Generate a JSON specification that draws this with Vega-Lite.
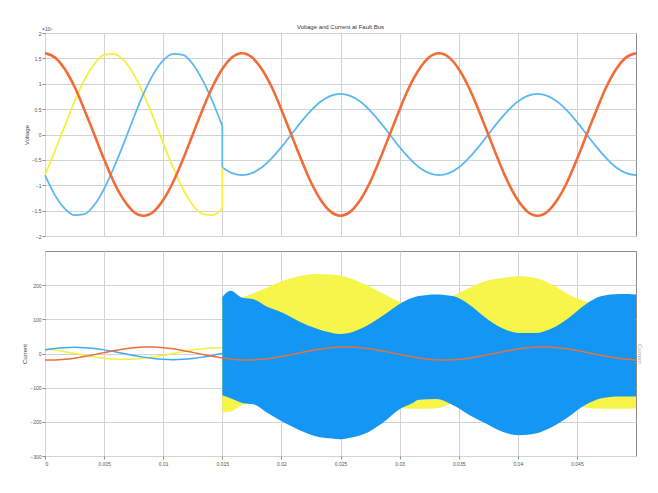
{
  "$schema": "https://vega.github.io/schema/vega-lite/v6.json",
  "background": "white",
  "padding": {"left": 21, "top": 23, "right": 5, "bottom": 5},
  "spacing": 10,
  "config": {
    "font": "Liberation Sans",
    "view": {"stroke": "#8c8c8c", "strokeWidth": 1},
    "axis": {
      "gridColor": "#d2d2d2", "gridWidth": 1, "domain": false,
      "tickColor": "#8c8c8c", "tickSize": 3, "labelOverlap": false,
      "labelFontSize": 5, "labelColor": "#555555", "labelPadding": 1,
      "titleFontSize": 6, "titleFontWeight": "normal", "titleColor": "#444444"
    },
    "title": {"fontSize": 6, "fontWeight": "normal", "color": "#333333"}
  },
  "datasets": {
    "w": [
      {"t":0,"A":1.6,"B":-0.8,"C":-0.8,"ia":-18.7,"ib":13.8,"ic":10.6},
      {"t":0.00083,"A":1.52,"B":-0.33,"C":-1.19,"ia":-18.8,"ib":10,"ic":14.6},
      {"t":0.00167,"A":1.29,"B":0.17,"C":-1.46,"ia":-17.1,"ib":5.3,"ic":17.1},
      {"t":0.0025,"A":0.94,"B":0.65,"C":-1.59,"ia":-13.7,"ib":0,"ic":18},
      {"t":0.00333,"A":0.49,"B":1.07,"C":-1.57,"ia":-8.9,"ib":-5.3,"ic":17.1},
      {"t":0.00417,"A":0,"B":1.39,"C":-1.39,"ia":-3.3,"ib":-10,"ic":14.6},
      {"t":0.005,"A":-0.49,"B":1.57,"C":-1.07,"ia":2.6,"ib":-13.8,"ic":10.6},
      {"t":0.00583,"A":-0.94,"B":1.59,"C":-0.65,"ia":8.3,"ib":-16.2,"ic":5.6},
      {"t":0.00667,"A":-1.29,"B":1.46,"C":-0.17,"ia":13.2,"ib":-17,"ic":0},
      {"t":0.0075,"A":-1.52,"B":1.19,"C":0.33,"ia":16.8,"ib":-16.2,"ic":-5.6},
      {"t":0.00833,"A":-1.6,"B":0.8,"C":0.8,"ia":18.7,"ib":-13.8,"ic":-10.6},
      {"t":0.00917,"A":-1.52,"B":0.33,"C":1.19,"ia":18.8,"ib":-10,"ic":-14.6},
      {"t":0.01,"A":-1.29,"B":-0.17,"C":1.46,"ia":17.1,"ib":-5.3,"ic":-17.1},
      {"t":0.01083,"A":-0.94,"B":-0.65,"C":1.59,"ia":13.7,"ib":0,"ic":-18},
      {"t":0.01167,"A":-0.49,"B":-1.07,"C":1.57,"ia":8.9,"ib":5.3,"ic":-17.1},
      {"t":0.0125,"A":0,"B":-1.39,"C":1.39,"ia":3.3,"ib":10,"ic":-14.6},
      {"t":0.01333,"A":0.49,"B":-1.57,"C":1.07,"ia":-2.6,"ib":13.8,"ic":-10.6},
      {"t":0.01417,"A":0.94,"B":-1.59,"C":0.65,"ia":-8.3,"ib":16.2,"ic":-5.6},
      {"t":0.015,"A":1.29,"B":-1.46,"C":0.17,"Cp":-0.65,"ia":-13.2,"ib":17,"ic":0},
      {"t":0.01583,"A":1.52,"Cp":-0.76,"ia":-16.8},
      {"t":0.01667,"A":1.6,"Cp":-0.8,"ia":-18.7},
      {"t":0.0175,"A":1.52,"Cp":-0.76,"ia":-18.8},
      {"t":0.01833,"A":1.29,"Cp":-0.65,"ia":-17.1},
      {"t":0.01917,"A":0.94,"Cp":-0.47,"ia":-13.7},
      {"t":0.02,"A":0.49,"Cp":-0.25,"ia":-8.9},
      {"t":0.02083,"A":0,"Cp":0,"ia":-3.3},
      {"t":0.02167,"A":-0.49,"Cp":0.25,"ia":2.6},
      {"t":0.0225,"A":-0.94,"Cp":0.47,"ia":8.3},
      {"t":0.02333,"A":-1.29,"Cp":0.65,"ia":13.2},
      {"t":0.02417,"A":-1.52,"Cp":0.76,"ia":16.8},
      {"t":0.025,"A":-1.6,"Cp":0.8,"ia":18.7},
      {"t":0.02583,"A":-1.52,"Cp":0.76,"ia":18.8},
      {"t":0.02667,"A":-1.29,"Cp":0.65,"ia":17.1},
      {"t":0.0275,"A":-0.94,"Cp":0.47,"ia":13.7},
      {"t":0.02833,"A":-0.49,"Cp":0.25,"ia":8.9},
      {"t":0.02917,"A":0,"Cp":0,"ia":3.3},
      {"t":0.03,"A":0.49,"Cp":-0.25,"ia":-2.6},
      {"t":0.03083,"A":0.94,"Cp":-0.47,"ia":-8.3},
      {"t":0.03167,"A":1.29,"Cp":-0.65,"ia":-13.2},
      {"t":0.0325,"A":1.52,"Cp":-0.76,"ia":-16.8},
      {"t":0.03333,"A":1.6,"Cp":-0.8,"ia":-18.7},
      {"t":0.03417,"A":1.52,"Cp":-0.76,"ia":-18.8},
      {"t":0.035,"A":1.29,"Cp":-0.65,"ia":-17.1},
      {"t":0.03583,"A":0.94,"Cp":-0.47,"ia":-13.7},
      {"t":0.03667,"A":0.49,"Cp":-0.25,"ia":-8.9},
      {"t":0.0375,"A":0,"Cp":0,"ia":-3.3},
      {"t":0.03833,"A":-0.49,"Cp":0.25,"ia":2.6},
      {"t":0.03917,"A":-0.94,"Cp":0.47,"ia":8.3},
      {"t":0.04,"A":-1.29,"Cp":0.65,"ia":13.2},
      {"t":0.04083,"A":-1.52,"Cp":0.76,"ia":16.8},
      {"t":0.04167,"A":-1.6,"Cp":0.8,"ia":18.7},
      {"t":0.0425,"A":-1.52,"Cp":0.76,"ia":18.8},
      {"t":0.04333,"A":-1.29,"Cp":0.65,"ia":17.1},
      {"t":0.04417,"A":-0.94,"Cp":0.47,"ia":13.7},
      {"t":0.045,"A":-0.49,"Cp":0.25,"ia":8.9},
      {"t":0.04583,"A":0,"Cp":0,"ia":3.3},
      {"t":0.04667,"A":0.49,"Cp":-0.25,"ia":-2.6},
      {"t":0.0475,"A":0.94,"Cp":-0.47,"ia":-8.3},
      {"t":0.04833,"A":1.29,"Cp":-0.65,"ia":-13.2},
      {"t":0.04917,"A":1.52,"Cp":-0.76,"ia":-16.8},
      {"t":0.05,"A":1.6,"Cp":-0.8,"ia":-18.7}
    ],
    "jumps": [
      {"t":0.015,"from":-1.46,"to":-0.65,"s":"B"},
      {"t":0.015,"from":0.17,"to":-0.65,"s":"C"}
    ],
    "band": [
      {"t":0.015,"bh":165,"bl":-122,"yh":150,"yl":-172},
      {"t":0.0157,"bh":184,"bl":-131,"yh":155,"yl":-170},
      {"t":0.0167,"bh":163,"bl":-145,"yh":165,"yl":-150},
      {"t":0.0177,"bh":158,"bl":-149,"yh":177,"yl":-140},
      {"t":0.0187,"bh":138,"bl":-171,"yh":192,"yl":-120},
      {"t":0.0201,"bh":119,"bl":-200,"yh":212,"yl":-100},
      {"t":0.0215,"bh":94,"bl":-224,"yh":226,"yl":-80},
      {"t":0.0229,"bh":74,"bl":-242,"yh":233,"yl":-70},
      {"t":0.0243,"bh":60,"bl":-249,"yh":231,"yl":-70},
      {"t":0.0249,"bh":57,"bl":-251,"yh":228,"yl":-72},
      {"t":0.0257,"bh":60,"bl":-247,"yh":221,"yl":-80},
      {"t":0.0271,"bh":79,"bl":-234,"yh":202,"yl":-100},
      {"t":0.0285,"bh":109,"bl":-205,"yh":177,"yl":-130},
      {"t":0.0299,"bh":143,"bl":-165,"yh":153,"yl":-158},
      {"t":0.0311,"bh":163,"bl":-145,"yh":140,"yl":-162},
      {"t":0.0316,"bh":168,"bl":-135,"yh":140,"yl":-162},
      {"t":0.0331,"bh":173,"bl":-133,"yh":145,"yl":-160},
      {"t":0.0345,"bh":168,"bl":-151,"yh":168,"yl":-145},
      {"t":0.0359,"bh":143,"bl":-180,"yh":192,"yl":-120},
      {"t":0.0373,"bh":104,"bl":-205,"yh":212,"yl":-100},
      {"t":0.0387,"bh":74,"bl":-229,"yh":221,"yl":-80},
      {"t":0.0401,"bh":60,"bl":-239,"yh":226,"yl":-70},
      {"t":0.0415,"bh":60,"bl":-234,"yh":221,"yl":-75},
      {"t":0.0429,"bh":74,"bl":-215,"yh":202,"yl":-95},
      {"t":0.0443,"bh":104,"bl":-185,"yh":173,"yl":-130},
      {"t":0.0457,"bh":143,"bl":-151,"yh":153,"yl":-158},
      {"t":0.0471,"bh":168,"bl":-131,"yh":140,"yl":-162},
      {"t":0.0486,"bh":174,"bl":-126,"yh":135,"yl":-162},
      {"t":0.05,"bh":173,"bl":-126,"yh":135,"yl":-160}
    ],
    "exp": [
      {"label": "×10⁵", "t": 0, "v": 2}
    ]
  },
  "vconcat": [
    {
      "width": 591,
      "height": 203,
      "title": {"text": "Voltage and Current at Fault Bus", "offset": -3},
      "encoding": {
        "x": {"field": "t", "type": "quantitative",
              "scale": {"domain": [0, 0.05], "nice": false, "zero": false},
              "axis": {"values": [0,0.005,0.01,0.015,0.02,0.025,0.03,0.035,0.04,0.045], "labels": false, "ticks": false, "title": null}}
      },
      "resolve": {"axis": {"y": "independent"}},
      "layer": [
        {
          "data": {"name": "w"},
          "transform": [{"filter": "isValid(datum.B)"}],
          "mark": {"type": "line", "color": "#f5f03c", "strokeWidth": 1.8, "interpolate": "monotone"},
          "encoding": {
            "y": {"field": "B", "type": "quantitative",
                  "scale": {"domain": [-2, 2], "nice": false},
                  "axis": {"values": [-2,-1.5,-1,-0.5,0,0.5,1,1.5,2], "format": "~g", "title": "Voltage", "titlePadding": 2}}
          }
        },
        {
          "data": {"name": "w"},
          "transform": [{"filter": "isValid(datum.C)"}],
          "mark": {"type": "line", "color": "#5ab8f2", "strokeWidth": 1.8, "interpolate": "monotone"},
          "encoding": {"y": {"field": "C", "type": "quantitative", "axis": null}}
        },
        {
          "data": {"name": "w"},
          "transform": [{"filter": "isValid(datum.Cp)"}],
          "mark": {"type": "line", "color": "#5ab8f2", "strokeWidth": 1.8, "interpolate": "monotone"},
          "encoding": {"y": {"field": "Cp", "type": "quantitative", "axis": null}}
        },
        {
          "data": {"name": "jumps"},
          "mark": {"type": "rule", "strokeWidth": 1.8},
          "encoding": {
            "y": {"field": "from", "type": "quantitative", "axis": null},
            "y2": {"field": "to"},
            "color": {"field": "s", "type": "nominal", "scale": {"domain": ["B","C"], "range": ["#f5f03c","#5ab8f2"]}, "legend": null}
          }
        },
        {
          "data": {"name": "w"},
          "mark": {"type": "line", "color": "#f26b38", "strokeWidth": 2.6, "interpolate": "monotone"},
          "encoding": {"y": {"field": "A", "type": "quantitative", "axis": null}}
        },
        {
          "data": {"name": "exp"},
          "mark": {"type": "text", "fontSize": 5, "align": "left", "baseline": "bottom", "dx": -3, "dy": -1, "color": "#444444"},
          "encoding": {
            "x": {"field": "t", "type": "quantitative"},
            "y": {"field": "v", "type": "quantitative", "axis": null},
            "text": {"field": "label"}
          }
        }
      ]
    },
    {
      "width": 591,
      "height": 205,
      "encoding": {
        "x": {"field": "t", "type": "quantitative",
              "scale": {"domain": [0, 0.05], "nice": false, "zero": false},
              "axis": {"values": [0,0.005,0.01,0.015,0.02,0.025,0.03,0.035,0.04,0.045], "format": "~g", "title": null, "labelPadding": 2}}
      },
      "resolve": {"axis": {"y": "independent"}},
      "layer": [
        {
          "data": {"name": "w"},
          "transform": [{"filter": "isValid(datum.ib)"}],
          "mark": {"type": "line", "color": "#f5f03c", "strokeWidth": 1.5, "interpolate": "monotone"},
          "encoding": {
            "y": {"field": "ib", "type": "quantitative",
                  "scale": {"domain": [-300, 300], "nice": false},
                  "axis": {"values": [-300,-200,-100,0,100,200], "title": "Current", "titlePadding": 2}}
          }
        },
        {
          "data": {"name": "w"},
          "transform": [{"filter": "isValid(datum.ic)"}],
          "mark": {"type": "line", "color": "#3fa9f5", "strokeWidth": 1.5, "interpolate": "monotone"},
          "encoding": {"y": {"field": "ic", "type": "quantitative", "axis": null}}
        },
        {
          "data": {"name": "band"},
          "mark": {"type": "area", "color": "#f7f44a", "opacity": 1, "interpolate": "monotone"},
          "encoding": {
            "y": {"field": "yh", "type": "quantitative", "axis": null},
            "y2": {"field": "yl"}
          }
        },
        {
          "data": {"name": "band"},
          "mark": {"type": "area", "color": "#1496f5", "opacity": 1, "interpolate": "monotone"},
          "encoding": {
            "y": {"field": "bh", "type": "quantitative", "axis": null},
            "y2": {"field": "bl"}
          }
        },
        {
          "data": {"name": "w"},
          "mark": {"type": "line", "color": "#e8703e", "strokeWidth": 1.5, "interpolate": "monotone"},
          "encoding": {
            "y": {"field": "ia", "type": "quantitative",
                  "axis": {"orient": "right", "title": "Current", "labels": false, "ticks": false, "grid": false, "titleColor": "#aaaaaa", "titlePadding": 0}}
          }
        }
      ]
    }
  ]
}
